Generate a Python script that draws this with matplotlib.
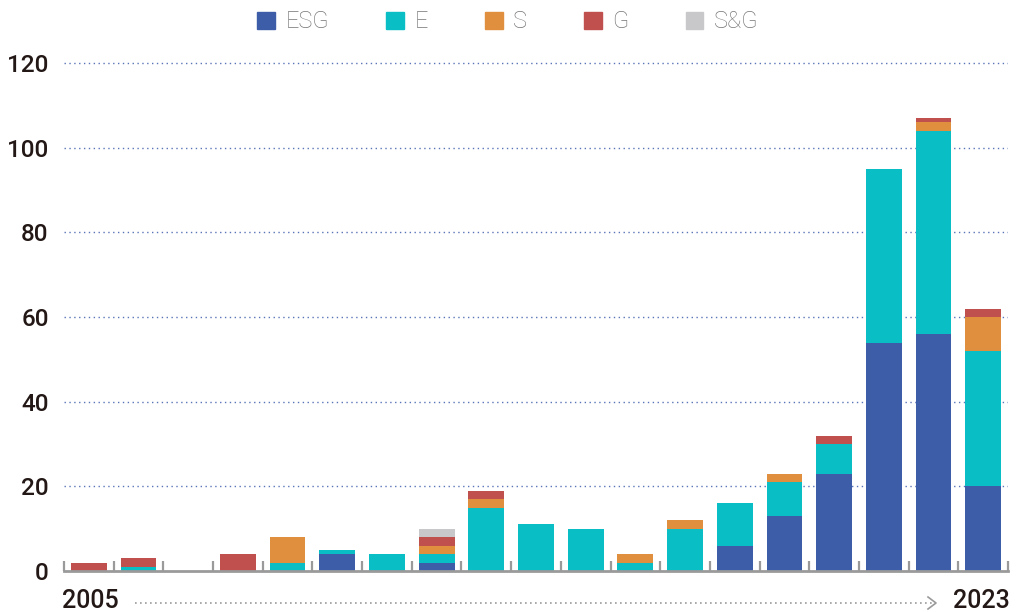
import matplotlib.pyplot as plt
from matplotlib.patches import Patch
from matplotlib.lines import Line2D
import numpy as np

years = list(range(2005, 2024))
esg = [0, 0, 0, 0, 0, 4, 0, 2, 0, 0, 0, 0, 0, 6, 13, 23, 54, 56, 20]
e = [0, 1, 0, 0, 2, 1, 4, 2, 15, 11, 10, 2, 10, 10, 8, 7, 41, 48, 32]
s = [0, 0, 0, 0, 6, 0, 0, 2, 2, 0, 0, 2, 2, 0, 2, 0, 0, 2, 8]
g = [2, 2, 0, 4, 0, 0, 0, 2, 2, 0, 0, 0, 0, 0, 0, 2, 0, 1, 2]
sg = [0, 0, 0, 0, 0, 0, 0, 2, 0, 0, 0, 0, 0, 0, 0, 0, 0, 0, 0]

series = [("ESG", esg, "#3d5da8"), ("E", e, "#0abec5"), ("S", s, "#e08f3f"),
          ("G", g, "#c0504d"), ("S&G", sg, "#c8c8ca")]

W, H = 1017, 612
fig = plt.figure(figsize=(W / 100, H / 100), dpi=100)
ax = fig.add_axes([64 / W, 41 / H, 944 / W, 512 / H])

x = np.arange(len(years))
bottom = np.zeros(len(years))
for name, vals, col in series:
    vals = np.array(vals, dtype=float)
    ax.bar(x, vals, width=0.72, bottom=bottom, color=col, zorder=3)
    bottom += vals

lab_font = dict(fontsize=17.5, fontweight='medium', color='#231815', family='Roboto')

ax.set_xlim(-0.5, len(years) - 0.5)
ax.set_ylim(0, 121)
ax.set_yticks(range(0, 121, 20))
ax.set_yticklabels([str(v) for v in range(0, 121, 20)], **lab_font)
ax.tick_params(axis='y', length=0, pad=11)
for v in range(20, 121, 20):
    ax.axhline(v, color='#5a74b8', lw=1.0, ls=(0, (1, 2.5)), zorder=1)

ax.set_xticks(np.arange(-0.5, len(years), 1.0))
ax.set_xticklabels([])
ax.tick_params(axis='x', direction='in', length=7, width=1.6, color='#9a9a9a')

for sp in ['top', 'right', 'left']:
    ax.spines[sp].set_visible(False)
ax.spines['bottom'].set_color('#9a9a9a')
ax.spines['bottom'].set_linewidth(2)
ax.spines['bottom'].set_zorder(4)

ax.text(-0.002, -0.058, str(years[0]), transform=ax.transAxes, ha='left', va='center',
        **{**lab_font, 'fontsize': 18})
ax.text(1.002, -0.058, str(years[-1]), transform=ax.transAxes, ha='right', va='center',
        **{**lab_font, 'fontsize': 18})

yl = 1 - 603 / H
fig.add_artist(Line2D([135 / W, 934 / W], [yl, yl], color='#9a9a9a', lw=1.2,
                      ls=(0, (1, 2))))
fig.add_artist(Line2D([928 / W, 936 / W, 928 / W], [yl + 6 / H, yl, yl - 6 / H],
                      color='#9a9a9a', lw=1.2))

handles = [Patch(color=col, label=name) for name, vals, col in series]
fig.legend(handles=handles, loc='center', bbox_to_anchor=(508 / W, 1 - 22 / H), ncol=5,
           frameon=False, handlelength=0.76, handleheight=0.76, handletextpad=0.45,
           columnspacing=2.4, prop={'family': 'Roboto', 'size': 17, 'weight': 'light'},
           labelcolor='#757575')

fig.savefig('out.png', dpi=100)
